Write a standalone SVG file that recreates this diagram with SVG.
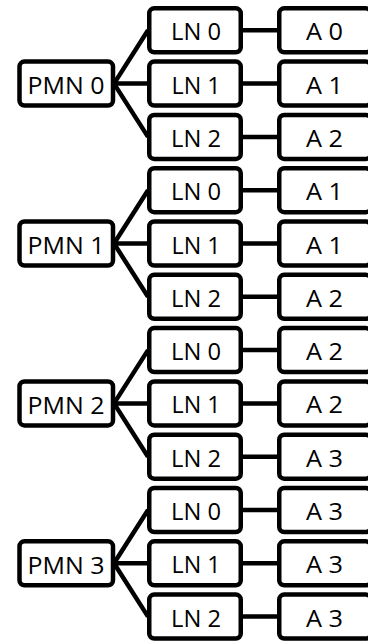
<svg xmlns="http://www.w3.org/2000/svg" width="368" height="642" viewBox="0 0 368 642">
<style>
.b{fill:#fff;stroke:#000;stroke-width:4.5}
.c{stroke:#000;stroke-width:4.5;fill:none}
text{font-family:"Open Sans","Liberation Sans",sans-serif;font-size:23px;fill:#000;text-anchor:middle}
</style>
<rect width="368" height="642" fill="#fff"/>
<g id="connectors" class="c">
<path d="M114 83.6L148 30.3M114 83.6H150M114 83.6L148 136.9"/>
<path d="M114 243.5L148 190.2M114 243.5H150M114 243.5L148 296.8"/>
<path d="M114 403.4L148 350.1M114 403.4H150M114 403.4L148 456.7"/>
<path d="M114 563.3L148 510.0M114 563.3H150M114 563.3L148 616.6"/>
<path d="M241 30.3H279M241 83.6H279M241 136.9H279M241 190.2H279M241 243.5H279M241 296.8H279M241 350.1H279M241 403.4H279M241 456.7H279M241 510.0H279M241 563.3H279M241 616.6H279"/>
</g>
<g id="pmn0"><rect class="b" x="19.5" y="61.6" width="93.5" height="44" rx="5"/><text x="66" y="93.8" textLength="77" lengthAdjust="spacingAndGlyphs">PMN 0</text></g>
<g id="pmn1"><rect class="b" x="19.5" y="221.5" width="93.5" height="44" rx="5"/><text x="66" y="253.7" textLength="77" lengthAdjust="spacingAndGlyphs">PMN 1</text></g>
<g id="pmn2"><rect class="b" x="19.5" y="381.4" width="93.5" height="44" rx="5"/><text x="66" y="413.6" textLength="77" lengthAdjust="spacingAndGlyphs">PMN 2</text></g>
<g id="pmn3"><rect class="b" x="19.5" y="541.3" width="93.5" height="44" rx="5"/><text x="66" y="573.5" textLength="77" lengthAdjust="spacingAndGlyphs">PMN 3</text></g>

<g id="ln0-0"><rect class="b" x="149.25" y="8.3" width="91.5" height="44" rx="5"/><text x="196" y="40.3" textLength="50" lengthAdjust="spacingAndGlyphs">LN 0</text></g>
<g id="ln0-1"><rect class="b" x="149.25" y="61.6" width="91.5" height="44" rx="5"/><text x="196" y="93.6" textLength="49" lengthAdjust="spacingAndGlyphs">LN 1</text></g>
<g id="ln0-2"><rect class="b" x="149.25" y="114.9" width="91.5" height="44" rx="5"/><text x="196" y="146.9" textLength="50" lengthAdjust="spacingAndGlyphs">LN 2</text></g>
<g id="ln1-0"><rect class="b" x="149.25" y="168.2" width="91.5" height="44" rx="5"/><text x="196" y="200.2" textLength="50" lengthAdjust="spacingAndGlyphs">LN 0</text></g>
<g id="ln1-1"><rect class="b" x="149.25" y="221.5" width="91.5" height="44" rx="5"/><text x="196" y="253.5" textLength="49" lengthAdjust="spacingAndGlyphs">LN 1</text></g>
<g id="ln1-2"><rect class="b" x="149.25" y="274.8" width="91.5" height="44" rx="5"/><text x="196" y="306.8" textLength="50" lengthAdjust="spacingAndGlyphs">LN 2</text></g>
<g id="ln2-0"><rect class="b" x="149.25" y="328.1" width="91.5" height="44" rx="5"/><text x="196" y="360.1" textLength="50" lengthAdjust="spacingAndGlyphs">LN 0</text></g>
<g id="ln2-1"><rect class="b" x="149.25" y="381.4" width="91.5" height="44" rx="5"/><text x="196" y="413.4" textLength="49" lengthAdjust="spacingAndGlyphs">LN 1</text></g>
<g id="ln2-2"><rect class="b" x="149.25" y="434.7" width="91.5" height="44" rx="5"/><text x="196" y="466.7" textLength="50" lengthAdjust="spacingAndGlyphs">LN 2</text></g>
<g id="ln3-0"><rect class="b" x="149.25" y="488" width="91.5" height="44" rx="5"/><text x="196" y="520" textLength="50" lengthAdjust="spacingAndGlyphs">LN 0</text></g>
<g id="ln3-1"><rect class="b" x="149.25" y="541.3" width="91.5" height="44" rx="5"/><text x="196" y="573.3" textLength="49" lengthAdjust="spacingAndGlyphs">LN 1</text></g>
<g id="ln3-2"><rect class="b" x="149.25" y="594.6" width="91.5" height="44" rx="5"/><text x="196" y="626.6" textLength="50" lengthAdjust="spacingAndGlyphs">LN 2</text></g>

<g id="a0-0"><rect class="b" x="279.25" y="8.3" width="91.5" height="44" rx="5"/><text x="324.5" y="40.3" textLength="37" lengthAdjust="spacingAndGlyphs">A 0</text></g>
<g id="a0-1"><rect class="b" x="279.25" y="61.6" width="91.5" height="44" rx="5"/><text x="324.5" y="93.6" textLength="37" lengthAdjust="spacingAndGlyphs">A 1</text></g>
<g id="a0-2"><rect class="b" x="279.25" y="114.9" width="91.5" height="44" rx="5"/><text x="324.5" y="146.9" textLength="37" lengthAdjust="spacingAndGlyphs">A 2</text></g>
<g id="a1-0"><rect class="b" x="279.25" y="168.2" width="91.5" height="44" rx="5"/><text x="324.5" y="200.2" textLength="37" lengthAdjust="spacingAndGlyphs">A 1</text></g>
<g id="a1-1"><rect class="b" x="279.25" y="221.5" width="91.5" height="44" rx="5"/><text x="324.5" y="253.5" textLength="37" lengthAdjust="spacingAndGlyphs">A 1</text></g>
<g id="a1-2"><rect class="b" x="279.25" y="274.8" width="91.5" height="44" rx="5"/><text x="324.5" y="306.8" textLength="37" lengthAdjust="spacingAndGlyphs">A 2</text></g>
<g id="a2-0"><rect class="b" x="279.25" y="328.1" width="91.5" height="44" rx="5"/><text x="324.5" y="360.1" textLength="37" lengthAdjust="spacingAndGlyphs">A 2</text></g>
<g id="a2-1"><rect class="b" x="279.25" y="381.4" width="91.5" height="44" rx="5"/><text x="324.5" y="413.4" textLength="37" lengthAdjust="spacingAndGlyphs">A 2</text></g>
<g id="a2-2"><rect class="b" x="279.25" y="434.7" width="91.5" height="44" rx="5"/><text x="324.5" y="466.7" textLength="37" lengthAdjust="spacingAndGlyphs">A 3</text></g>
<g id="a3-0"><rect class="b" x="279.25" y="488" width="91.5" height="44" rx="5"/><text x="324.5" y="520" textLength="37" lengthAdjust="spacingAndGlyphs">A 3</text></g>
<g id="a3-1"><rect class="b" x="279.25" y="541.3" width="91.5" height="44" rx="5"/><text x="324.5" y="573.3" textLength="37" lengthAdjust="spacingAndGlyphs">A 3</text></g>
<g id="a3-2"><rect class="b" x="279.25" y="594.6" width="91.5" height="44" rx="5"/><text x="324.5" y="626.6" textLength="37" lengthAdjust="spacingAndGlyphs">A 3</text></g>
</svg>
